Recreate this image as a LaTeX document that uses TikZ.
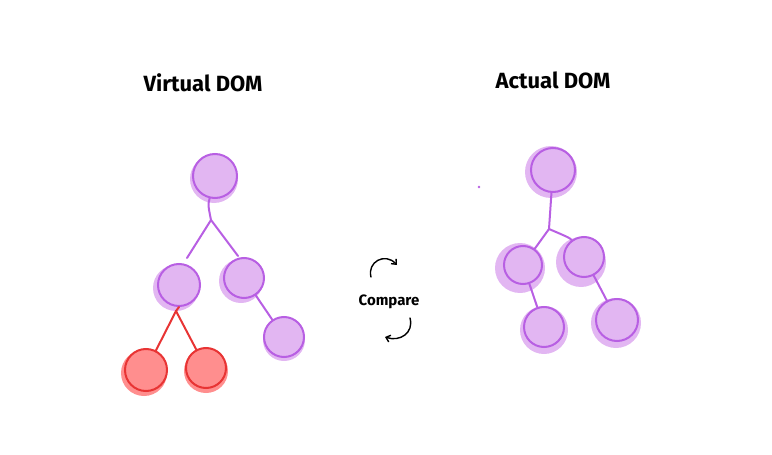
\documentclass[tikz,border=0pt]{standalone}
\usepackage{fontspec}
\setmainfont{Fira Sans}
\usetikzlibrary{arrows.meta,calc}
\definecolor{pfill}{HTML}{E2B6F2}
\definecolor{pline}{HTML}{B85FE3}
\definecolor{rfill}{HTML}{FF8E8E}
\definecolor{rline}{HTML}{E83434}
\tikzset{
  x=1pt,y=-1pt,
  pnode/.style={circle,draw=pline,fill=pfill,line width=2pt,inner sep=0pt,minimum size=#1},
  pnode/.default=42,
  rnode/.style={circle,draw=rline,fill=rfill,line width=2pt,inner sep=0pt,minimum size=#1},
  rnode/.default=42,
  pedge/.style={draw=pline,line width=2pt,line cap=round,line join=round},
  redge/.style={draw=rline,line width=2pt,line cap=round,line join=round},
  title/.style={font=\fontsize{22}{26}\selectfont\bfseries},
  lbl/.style={font=\fontsize{15}{18}\selectfont\bfseries},
  carrow/.style={draw=black,line width=1.4pt,line cap=round,-{Straight Barb[length=4pt,width=7pt]}}
}
\begin{document}
\begin{tikzpicture}
\useasboundingbox (0,0) rectangle (772,455);
% titles
\node[title] (tv) at (203,83) {Virtual DOM};
\node[title] (ta) at (553,80) {Actual DOM};
\node[lbl] (cmp) at (389,302) {Compare};

% halos
\fill[pfill] (214,179) circle (24);
\fill[pfill] (176,288) circle (23);
\fill[pfill] (241,281) circle (22);
\fill[pfill] (284,340) circle (21);
\fill[rfill] (144,373) circle (23);
\fill[rfill] (206,371) circle (22);
\fill[pfill] (551,172) circle (26);
\fill[pfill] (520,268) circle (25);
\fill[pfill] (581,262) circle (25);
\fill[pfill] (544,330) circle (24);
\fill[pfill] (616,323) circle (25);
\fill[pline] (479,187) circle (1.4);

% virtual DOM nodes
\node[pnode=44] (v1) at (215,176) {};
\node[pnode=42] (v2) at (179,285) {};
\node[pnode=40] (v3) at (244,278) {};
\node[pnode=40] (v4) at (284,337) {};
\node[rnode=42] (v5) at (146,370) {};
\node[rnode=40] (v6) at (206,368) {};
\coordinate (vs1) at (211,220);
\coordinate (vs2) at (176,311);
\draw[pedge] (v1) .. controls (208,205) .. (vs1);
\draw[pedge] (vs1) -- (187,258);
\draw[pedge] (vs1) -- (238,256);
\draw[pedge] (v3) -- (v4);
\draw[redge] (v2.south) -- (vs2);
\draw[redge] (vs2) -- (v5);
\draw[redge] (vs2) -- (v6);

% actual DOM nodes
\node[pnode=44] (a1) at (553,170) {};
\node[pnode=38] (a2) at (523,265) {};
\node[pnode=40] (a3) at (584,257) {};
\node[pnode=40] (a4) at (544,327) {};
\node[pnode=42] (a5) at (617,320) {};
\coordinate (as1) at (549,229);
\draw[pedge] (a1) -- (as1);
\draw[pedge] (as1) -- (a2);
\draw[pedge] (as1) .. controls (570,238) .. (a3);
\draw[pedge] (a2) -- (a4);
\draw[pedge] (a3) -- (a5);

% compare arrows
\coordinate (c1s) at (371,277);
\coordinate (c1e) at (397,265);
\coordinate (c2s) at (410,318);
\coordinate (c2e) at (385,337);
\draw[carrow] (c1s) .. controls (367,262) and (385,252) .. (c1e);
\draw[carrow] (c2s) .. controls (414,333) and (400,342) .. (c2e);
\end{tikzpicture}
\end{document}
